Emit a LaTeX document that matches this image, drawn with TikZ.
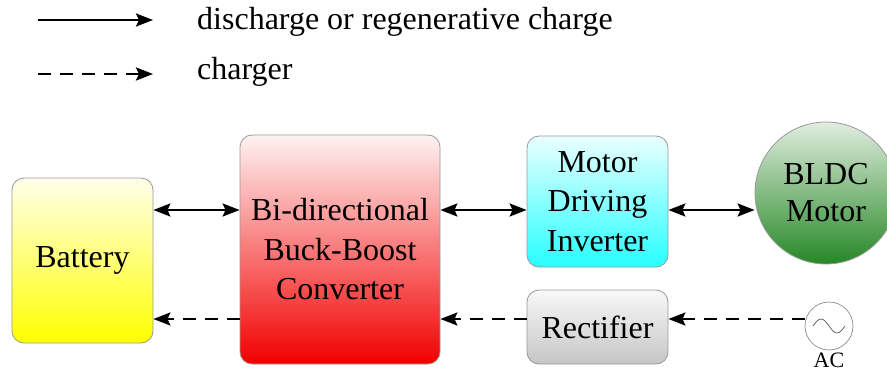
\documentclass[tikz,border=0pt]{standalone}
\usepackage{fontspec}
\setmainfont{Liberation Serif}
\usetikzlibrary{arrows.meta,positioning}

\begin{document}
\begin{tikzpicture}[x=1pt,y=-1pt,
        every node/.append style={font=\fontsize{32}{39.5}\selectfont, align=center, inner sep=0pt},
        blk/.style={draw=gray!80, line width=0.8pt, rounded corners=12pt},
        flow/.style={line width=2.6pt, -{Stealth[length=17pt,width=13pt,inset=3pt]}},
        both/.style={line width=2.6pt, {Stealth[length=17pt,width=13pt,inset=3pt]}-{Stealth[length=17pt,width=13pt,inset=3pt]}},
        dashflow/.style={flow, dash pattern=on 13pt off 9pt}
    ]
        \useasboundingbox (0,0) rectangle (887,372);
        \coordinate (up) at (0,210);
        \coordinate (dn) at (0,319);
        \node[blk, minimum width=141pt, minimum height=165pt, top color=yellow!8, bottom color=yellow] (Bat) at (82.5,260.5) {Battery};
        \node[blk, minimum width=200pt, minimum height=229pt, top color=red!5, bottom color=red!95!black] (Conv) at (340,249.5) {Bi-directional\\Buck-Boost\\Converter};
        \node[blk, minimum width=141pt, minimum height=131pt, top color=cyan!8, bottom color=cyan!85] (Inv) at (597.5,201.5) {Motor\\Driving\\Inverter};
        \node[blk, minimum width=141pt, minimum height=74pt, top color=gray!5, bottom color=gray!45] (Rect) at (597.5,327) {Rectifier};
        \node[draw=gray!80, line width=0.8pt, circle, minimum size=142pt, top color=green!40!black!12, bottom color=green!45!black!85, font=\fontsize{32}{37}\selectfont] (Mot) at (826,193) {BLDC\\Motor};
        \node[draw=gray!90, line width=0.7pt, circle, minimum size=48pt, fill=white] (AC) at (829,326) {};
        \draw[line width=0.7pt, gray!70!black] ([xshift=-16pt]AC.center) sin ++(8pt,7pt) cos ++(8pt,-7pt) sin ++(8pt,-7pt) cos ++(8pt,7pt);
        \node[below=2pt of AC, font=\fontsize{22}{26}\selectfont, text height=15pt, text depth=0pt] (ACl) {AC};
        \draw[both] (Bat.east |- up) -- (Conv.west |- up);
        \draw[both] (Conv.east |- up) -- (Inv.west |- up);
        \draw[both] (Inv.east |- up) -- (Mot.west |- up);
        \draw[dashflow] (Conv.west |- dn) -- (Bat.east |- dn);
        \draw[dashflow] (Rect.west |- dn) -- (Conv.east |- dn);
        \draw[dashflow] (AC.west |- dn) -- (Rect.east |- dn);
        \coordinate (L1a) at (38,20);
        \coordinate (L1b) at (153,20);
        \coordinate (L2a) at (38,74);
        \coordinate (L2b) at (153,74);
        \draw[flow] (L1a) -- (L1b);
        \draw[dashflow] (L2a) -- (L2b);
        \node[anchor=west] (T1) at (197,22) {discharge or regenerative charge};
        \node[anchor=west] (T2) at (197,72) {charger};
    \end{tikzpicture}
\end{document}
